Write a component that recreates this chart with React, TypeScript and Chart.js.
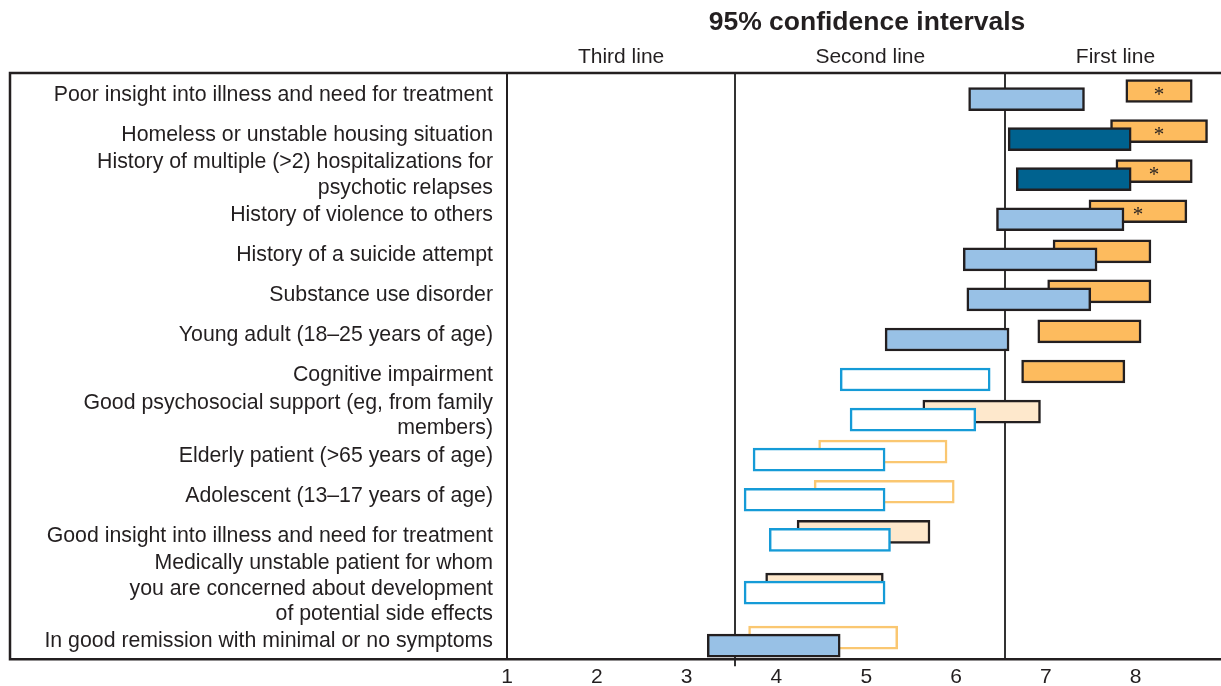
import React, { useEffect, useRef } from 'react';
import { Chart, registerables } from 'chart.js';

Chart.register(...registerables);

// ---------- data ----------
const categories: (string | string[])[] = [
  'Poor insight into illness and need for treatment',
  'Homeless or unstable housing situation',
  ['History of multiple (>2) hospitalizations for', 'psychotic relapses'],
  'History of violence to others',
  'History of a suicide attempt',
  'Substance use disorder',
  'Young adult (18–25 years of age)',
  'Cognitive impairment',
  ['Good psychosocial support (eg, from family', 'members)'],
  'Elderly patient (>65 years of age)',
  'Adolescent (13–17 years of age)',
  'Good insight into illness and need for treatment',
  ['Medically unstable patient for whom', 'you are concerned about development', 'of potential side effects'],
  'In good remission with minimal or no symptoms',
];

// upper bar of each pair (orange family)
const upperLow = [7.89, 7.72, 7.78, 7.48, 7.08, 7.02, 6.91, 6.73, 5.63, 4.47, 4.42, 4.23, 3.88, 3.69];
const upperHigh = [8.63, 8.80, 8.63, 8.57, 8.17, 8.17, 8.06, 7.88, 6.94, 5.90, 5.98, 5.71, 5.19, 5.35];
const upperTier = ['first', 'first', 'first', 'first', 'first', 'first', 'first', 'first', 'soft', 'open', 'open', 'soft', 'soft', 'open'];

// lower bar of each pair (blue family)
const lowerLow = [6.14, 6.58, 6.67, 6.45, 6.08, 6.12, 5.21, 4.71, 4.82, 3.74, 3.64, 3.92, 3.64, 3.23];
const lowerHigh = [7.43, 7.95, 7.95, 7.87, 7.57, 7.50, 6.59, 6.38, 6.22, 5.21, 5.21, 5.27, 5.21, 4.71];
const lowerTier = ['mixed', 'first', 'first', 'mixed', 'mixed', 'mixed', 'mixed', 'open', 'open', 'open', 'open', 'open', 'open', 'mixed'];

const significant = [true, true, true, true, false, false, false, false, false, false, false, false, false, false];

const xTickValues = [1, 2, 3, 4, 5, 6, 7, 8];
const lineBoundaries = [3.54, 6.55];
const lineLabels = ['Third line', 'Second line', 'First line'];
const headerTitle = '95% confidence intervals';

// ---------- styles ----------
const INK = '#231F20';
const FONT = "'Liberation Sans', Arial, Helvetica, sans-serif";
const upperStyle: Record<string, { fill: string; border: string }> = {
  first: { fill: '#FDBB5E', border: INK },
  soft: { fill: '#FEE8CC', border: INK },
  open: { fill: '#FFFFFF', border: '#FAC771' },
};
const lowerStyle: Record<string, { fill: string; border: string }> = {
  first: { fill: '#00628F', border: INK },
  mixed: { fill: '#98C1E6', border: INK },
  open: { fill: '#FFFFFF', border: '#159BD7' },
};

// row layout: rows with long (3+ line) labels get extra room
const lineCount = (c: string | string[]) => (Array.isArray(c) ? c.length : 1);
const extra = (c: string | string[]) => Math.max(0, lineCount(c) - 2) * 0.32;
const rowPos: number[] = [];
categories.forEach((c, i) => {
  rowPos.push(i === 0 ? 0 : rowPos[i - 1] + 1 + extra(categories[i - 1]) + extra(c));
});
const PAIR = 0.1;
const Y_MIN = -0.55;
const Y_MAX = rowPos[rowPos.length - 1] + 0.44;

const decor = {
  id: 'decor',
  beforeDatasetsDraw(chart: any) {
    const { ctx, chartArea, scales } = chart;
    const { top, bottom } = chartArea;
    ctx.save();
    ctx.strokeStyle = '#333333';
    ctx.lineWidth = 2;
    lineBoundaries.forEach((b, i) => {
      const px = Math.round(scales.x.getPixelForValue(b));
      ctx.beginPath();
      ctx.moveTo(px, top);
      ctx.lineTo(px, bottom + (i === 0 ? 7 : 0));
      ctx.stroke();
    });
    ctx.restore();
  },
  afterDatasetsDraw(chart: any) {
    const { ctx, scales } = chart;
    ctx.save();
    ctx.fillStyle = INK;
    ctx.font = "21px 'Liberation Serif', 'DejaVu Serif', serif";
    ctx.textAlign = 'center';
    ctx.textBaseline = 'alphabetic';
    const m = ctx.measureText('*');
    const shift = (m.actualBoundingBoxAscent - m.actualBoundingBoxDescent) / 2;
    significant.forEach((s, i) => {
      if (!s) return;
      const px = scales.x.getPixelForValue((upperLow[i] + upperHigh[i]) / 2);
      const py = scales.y.getPixelForValue(rowPos[i] - PAIR);
      ctx.fillText('*', px, py + shift);
    });
    ctx.restore();
  },
  afterDraw(chart: any) {
    const { ctx, chartArea, scales, width } = chart;
    const { left, right, top, bottom } = chartArea;
    ctx.save();
    ctx.strokeStyle = INK;
    ctx.lineWidth = 2.5;
    ctx.beginPath();
    ctx.moveTo(width, top);
    ctx.lineTo(10, top);
    ctx.lineTo(10, bottom);
    ctx.lineTo(width, bottom);
    ctx.stroke();
    ctx.lineWidth = 2;
    ctx.beginPath();
    ctx.moveTo(left, top);
    ctx.lineTo(left, bottom);
    ctx.stroke();

    ctx.fillStyle = INK;
    ctx.textAlign = 'center';
    ctx.textBaseline = 'middle';
    ctx.font = `bold 26.5px ${FONT}`;
    ctx.fillText(headerTitle, (left + right) / 2 + 3, 23);
    ctx.font = `21px ${FONT}`;
    const xs = [scales.x.getPixelForValue(1), scales.x.getPixelForValue(lineBoundaries[0]), scales.x.getPixelForValue(lineBoundaries[1]), scales.x.getPixelForValue(9)];
    lineLabels.forEach((t, i) => {
      ctx.fillText(t, (xs[i] + xs[i + 1]) / 2, 57);
    });
    ctx.restore();
  },
};

export default function App() {
  const ref = useRef<HTMLCanvasElement>(null);
  useEffect(() => {
    document.body.style.margin = '0';
    const canvas = ref.current!;
    const chart = new Chart(canvas, {
      type: 'bar',
      data: {
        datasets: [
          {
            label: 'lower',
            data: lowerLow.map((lo, i) => ({ x: [lo, lowerHigh[i]], y: rowPos[i] + PAIR })) as any,
            backgroundColor: lowerTier.map((t) => lowerStyle[t].fill),
            borderColor: lowerTier.map((t) => lowerStyle[t].border),
            borderWidth: 2.5,
            borderSkipped: false,
            barThickness: 23,
            grouped: false,
            order: 0,
          } as any,
          {
            label: 'upper',
            data: upperLow.map((lo, i) => ({ x: [lo, upperHigh[i]], y: rowPos[i] - PAIR })) as any,
            backgroundColor: upperTier.map((t) => upperStyle[t].fill),
            borderColor: upperTier.map((t) => upperStyle[t].border),
            borderWidth: 2.5,
            borderSkipped: false,
            barThickness: 23,
            grouped: false,
            order: 1,
          } as any,
        ],
      },
      options: {
        indexAxis: 'y',
        responsive: false,
        animation: false,
        layout: { padding: { top: 73, left: 0, right: 0, bottom: 0 } },
        plugins: {
          legend: { display: false },
          tooltip: { enabled: false },
          title: { display: false },
        },
        scales: {
          x: {
            type: 'linear',
            min: 1,
            max: 8.95,
            bounds: 'data',
            offset: false,
            grid: { display: false, drawTicks: false },
            border: { display: false },
            ticks: {
              font: { family: FONT, size: 21 },
              color: INK,
              padding: 5.5,
              autoSkip: false,
              maxRotation: 0,
            },
            afterBuildTicks: (s: any) => {
              s.ticks = xTickValues.map((v) => ({ value: v }));
            },
            afterFit: (s: any) => {
              s.height = 24;
            },
          },
          y: {
            type: 'linear',
            reverse: true,
            min: Y_MIN,
            max: Y_MAX,
            bounds: 'data',
            offset: false,
            grid: { display: false, drawTicks: false, offset: false },
            border: { display: false },
            ticks: {
              font: { family: FONT, size: 21.3, lineHeight: 1.2 },
              color: INK,
              padding: 14,
              autoSkip: false,
              callback: (_v: any, i: number) => categories[i] as any,
            },
            afterBuildTicks: (s: any) => {
              s.ticks = rowPos.map((v) => ({ value: v }));
            },
            afterFit: (s: any) => {
              s.width = 507;
            },
          },
        } as any,
      },
      plugins: [decor],
    });
    return () => chart.destroy();
  }, []);
  return (
    <div style={{ width: 1221, height: 686, overflow: 'hidden' }}>
      <canvas ref={ref} width={1221} height={686} style={{ display: 'block' }} />
    </div>
  );
}
